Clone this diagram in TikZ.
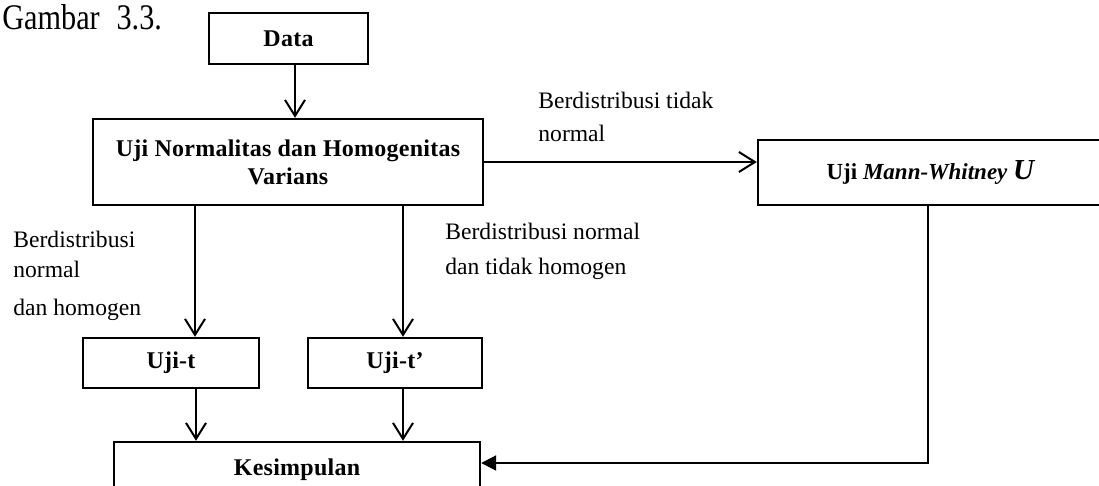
\documentclass[tikz,border=0pt]{standalone}
\usepackage{fontspec}
\usepackage{graphicx}
\setmainfont{Liberation Serif}
\usetikzlibrary{arrows.meta}

\begin{document}
\begin{tikzpicture}[x=0.5pt,y=-0.5pt,
    kotak/.style={draw,line width=1.2pt,inner sep=0pt,align=center,
      font=\fontsize{12}{14}\selectfont\bfseries\addfontfeature{LetterSpace=1}},
    ket/.style={inner sep=0pt,align=left,anchor=north west,
      font=\fontsize{11.8}{16.5}\selectfont},
    panah/.style={line width=1pt,-{Straight Barb[length=8pt,width=10pt]}},
    panahisi/.style={line width=1pt,-{Triangle[length=7.5pt,width=7.5pt]}}]
        \useasboundingbox (0,0) rectangle (1099,486);
        \clip (0,0) rectangle (1099,486);

        % judul gambar
        \node[anchor=base west,inner sep=0pt,font=\fontsize{18}{20}\selectfont] (judul) at (2,30)
            {\scalebox{0.84}[1]{Gambar\hspace{10pt}3.3.}};

        % kotak-kotak
        \node[kotak,minimum width=79.5pt,minimum height=25.5pt] (data) at (288.5,38.5) {Data};
        \node[kotak,minimum width=195pt,minimum height=43pt] (uji) at (288,162) {Uji Normalitas dan Homogenitas\\Varians};
        \node[kotak,minimum width=173pt,minimum height=32.5pt,
            font=\fontsize{11.5}{14}\selectfont\bfseries] (mwu) at (931,172.5)
            {Uji \textit{Mann-Whitney {\fontsize{14.5}{14}\selectfont U}}};
        \node[kotak,minimum width=88pt,minimum height=25pt] (ujit) at (171,363) {Uji-t};
        \node[kotak,minimum width=87pt,minimum height=25pt] (ujitt) at (395,363) {Uji-t'};
        \node[kotak,minimum width=183pt,minimum height=28pt] (kes) at (297,470) {Kesimpulan};

        % keterangan cabang
        \node[ket] (ket1) at (538,92) {Berdistribusi tidak\\normal};
        \node[ket,font=\fontsize{11.8}{15}\selectfont] (ket2) at (13,231) {Berdistribusi\\normal\\[4pt]dan homogen};
        \node[ket,font=\fontsize{11.8}{17.5}\selectfont] (ket3) at (445,223) {Berdistribusi normal\\dan tidak homogen};

        % panah
        \draw[panah] ([xshift=3.25pt]data.south) -- ([xshift=3.25pt]data.south |- uji.north);
        \draw[panah] (uji.east) -- (uji.east -| mwu.west);
        \draw[panah] ([xshift=12pt]ujit.north |- uji.south) -- ([xshift=12pt]ujit.north);
        \draw[panah] ([xshift=4pt]ujitt.north |- uji.south) -- ([xshift=4pt]ujitt.north);
        \draw[panah] ([xshift=12.5pt]ujit.south) -- ([xshift=12.5pt]ujit.south |- kes.north);
        \draw[panah] ([xshift=4pt]ujitt.south) -- ([xshift=4pt]ujitt.south |- kes.north);
        \draw[panahisi] ([xshift=-1.5pt]mwu.south) |- ([yshift=3.5pt]kes.east);

    \end{tikzpicture}
\end{document}
